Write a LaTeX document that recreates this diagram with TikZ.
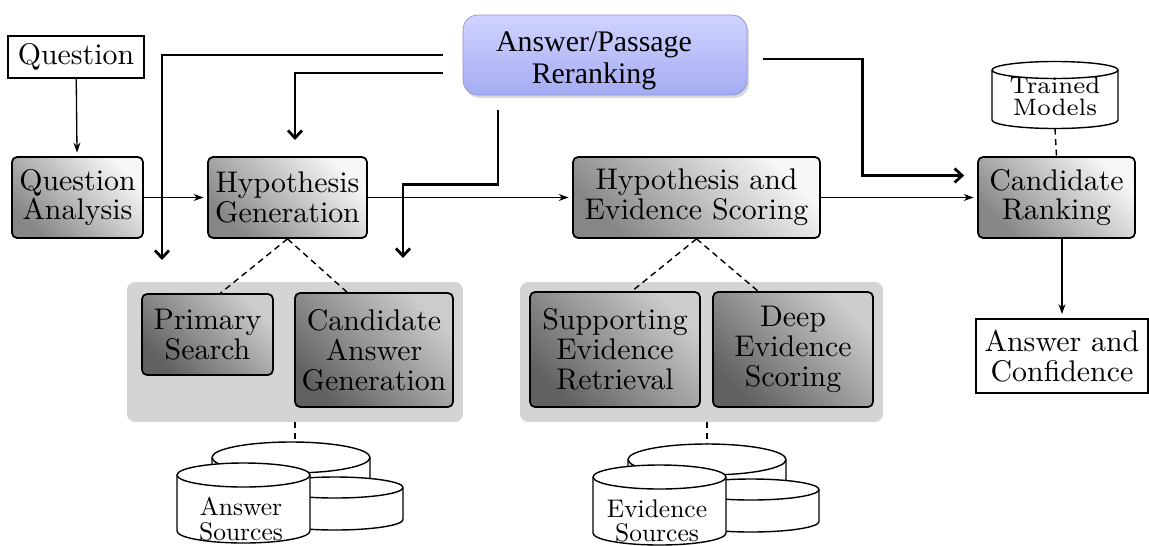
\documentclass[tikz,border=0pt]{standalone}
\usepackage{fontspec}
\setmainfont{lmroman10}[Extension=.otf, UprightFont=*-regular]
\newfontfamily\tmfont{lmroman7}[Extension=.otf, UprightFont=*-regular]
\newfontfamily\rrfont{Liberation Serif}
\usetikzlibrary{arrows.meta,positioning,calc,shadows}

\definecolor{rrtop}{RGB}{208,212,255}
\definecolor{rrbot}{RGB}{165,171,243}
\definecolor{rredge}{RGB}{140,146,212}
\definecolor{panelgray}{RGB}{212,212,212}

% one database cylinder: centre x, top y, bottom y, x radius, y radius
\newcommand{\dbcyl}[5]{%
  \draw[line width=0.8pt, fill=white] ({#1-#4},{-#2}) -- ({#1-#4},{-#3})
    arc[start angle=180, end angle=360, x radius=#4, y radius=#5]
    -- ({#1+#4},{-#2})
    arc[start angle=0, end angle=180, x radius=#4, y radius=#5] -- cycle;
  \draw[line width=0.8pt] ({#1-#4},{-#2})
    arc[start angle=180, end angle=360, x radius=#4, y radius=#5];
}
% stack of three cylinders: name, x shift, y shift, label
\newcommand{\dbstack}[4]{%
  \begin{scope}[shift={(#2,#3)}]
    \dbcyl{291}{457.5}{505}{79}{15.5}
    \dbcyl{335}{487.5}{519.5}{68}{10.5}
    \dbcyl{243.5}{475}{531}{66.5}{12}
    \coordinate (#1) at (291,-442);
    \node[dbtext] (#1txt) at (241,-519) {#4};
  \end{scope}}

\begin{document}
\begin{tikzpicture}[x=0.02cm, y=0.02cm,
    font=\fontsize{17}{17}\selectfont,
    plainbox/.style={draw, line width=0.8pt, align=center},
    proc/.style={draw, line width=1pt, rounded corners=0.1cm, align=center,
      top color=gray!6, bottom color=gray!95, shading angle=-45},
    subproc/.style={proc, top color=gray!40, bottom color=black!62,
      shading angle=-45},
    panel/.style={fill=panelgray, rounded corners=0.16cm},
    rerank/.style={rounded corners=0.3cm, draw=rredge, line width=0.4pt,
      top color=rrtop, bottom color=rrbot,
      minimum width=5.68cm, minimum height=1.6cm,
      drop shadow={shadow xshift=0.04cm, shadow yshift=-0.06cm, opacity=0.3}},
    rrtext/.style={align=center, font=\rrfont\fontsize{17}{18}\selectfont},
    dbtext/.style={align=center, font=\fontsize{14.5}{14}\selectfont},
    flow/.style={-{Stealth[length=2mm, width=1.4mm]}, line width=0.75pt,
      shorten >=0.07cm},
    fb/.style={-{Straight Barb[length=1.5mm, width=2.8mm]}, line width=1.6pt},
    link/.style={dash pattern=on 3.5pt off 2.5pt, line width=0.8pt},
  ]
  \useasboundingbox (0,0) rectangle (1149,-545);

  % main pipeline
  \node[plainbox, minimum width=2.72cm, minimum height=0.84cm] (q)
    at (76,-57) {Question};
  \node[proc, minimum width=2.62cm, minimum height=1.62cm] (qa)
    at (77.5,-197.5) {Question\\Analysis};
  \node[proc, minimum width=3.18cm, minimum height=1.62cm] (hg)
    at (287.5,-197.5) {Hypothesis\\Generation};
  \node[proc, minimum width=4.94cm, minimum height=1.62cm] (hes)
    at (696.5,-197.5) {Hypothesis and\\Evidence Scoring};
  \node[proc, minimum width=3.14cm, minimum height=1.62cm] (cr)
    at (1056.5,-197.5) {Candidate\\Ranking};
  \node[plainbox, line width=1.6pt, minimum width=3.44cm,
    minimum height=1.48cm] (ac) at (1062,-356) {Answer and\\Confidence};

  % reranking box
  \node[rerank] (rr) at (605,-55) {};
  \node[rrtext] (rrtxt) at ($(rr)+(-11,-6)$) {Answer/Passage\\Reranking};

  % sub-steps
  \node[panel, minimum width=6.72cm, minimum height=2.8cm] (p1)
    at (295,-352) {};
  \node[panel, minimum width=7.26cm, minimum height=2.8cm] (p2)
    at (701.5,-352) {};
  \node[subproc, minimum width=2.62cm, minimum height=1.62cm] (ps)
    at (207.5,-334.5) {Primary\\Search};
  \node[subproc, minimum width=3.16cm, minimum height=2.28cm] (cag)
    at (374,-350) {Candidate\\Answer\\Generation};
  \node[subproc, minimum width=3.4cm, minimum height=2.3cm] (ser)
    at (615,-349.5) {Supporting\\Evidence\\Retrieval};
  \node[subproc, minimum width=3.2cm, minimum height=2.3cm] (des)
    at (793,-349.5) {Deep\\Evidence\\Scoring};

  % sources
  \dbstack{asrc}{0}{0}{Answer\\Sources}
  \dbstack{esrc}{416}{-2}{Evidence\\Sources}
  \dbcyl{1055}{70}{120}{63}{8.5}
  \coordinate (tm) at (1055,-128.5);
  \node[dbtext, font=\tmfont\fontsize{13.5}{12.5}\selectfont] (tmtxt)
    at (1055,-96) {Trained\\Models};

  % flow arrows
  \draw[flow] (q) -- (qa);
  \draw[flow] (qa) -- (hg);
  \draw[flow] (hg) -- (hes);
  \draw[flow] (hes) -- (cr);
  \draw[flow] (ac.north |- cr.south) -- (ac.north);

  % dashed links
  \draw[link] (hg.south) -- ($(ps.north)+(13,0)$);
  \draw[link] (hg.south) -- ($(cag.north)+(-27,0)$);
  \draw[link] (hes.south) -- ($(ser.north)+(17,0)$);
  \draw[link] (hes.south) -- ($(des.north)+(-35,0)$);
  \draw[link] (p1.south) -- (p1.south |- asrc);
  \draw[link] (esrc |- p2.south) -- (esrc);
  \draw[link] (tm) -- (cr.north);

  % reranking feedback
  \coordinate (fb1) at (162,-260);
  \coordinate (fb2) at (295,-140);
  \coordinate (fb3) at (403,-258);
  \draw[fb] ($(rr.west)+(-20,0)$) -| (fb1);
  \draw[fb] ($(rr.west)+(-20,-18)$) -| (fb2);
  \draw[fb] ($(rr.south)+(-107,-15)$) -- ++(0,-74) -| (fb3);
  \draw[fb] ($(rr.east)+(16,-4)$) -| ($(cr.west)+(-115,22)$)
    -- ($(cr.west)+(-13,22)$);
\end{tikzpicture}
\end{document}
